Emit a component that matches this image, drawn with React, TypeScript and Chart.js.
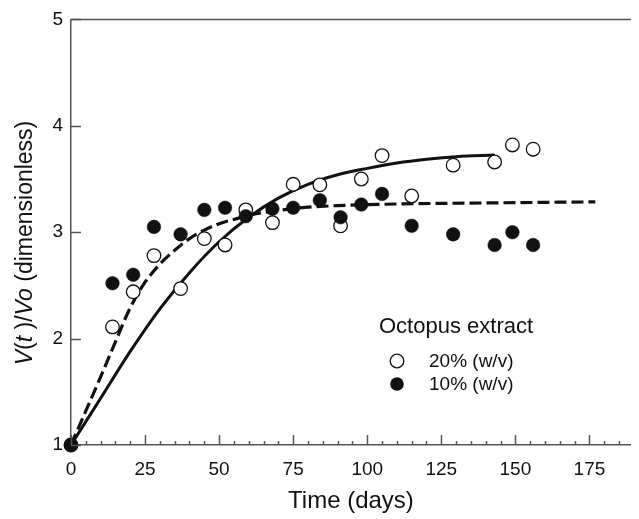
import React, { useEffect, useRef } from "react";
import { Chart, registerables } from "chart.js";

Chart.register(...registerables);

// Observed data, 20% (w/v) — open circles
const days20 = [0, 14, 21, 28, 37, 45, 52, 59, 68, 75, 84, 91, 98, 105, 115, 129, 143, 149, 156];
const vals20 = [1, 2.11, 2.44, 2.78, 2.47, 2.94, 2.88, 3.21, 3.09, 3.45, 3.445, 3.06, 3.5, 3.72, 3.34, 3.63, 3.66, 3.82, 3.78];

// Observed data, 10% (w/v) — filled circles
const days10 = [0, 14, 21, 28, 37, 45, 52, 59, 68, 75, 84, 91, 98, 105, 115, 129, 143, 149, 156];
const vals10 = [1, 2.52, 2.6, 3.05, 2.98, 3.21, 3.23, 3.15, 3.22, 3.23, 3.3, 3.14, 3.26, 3.36, 3.06, 2.98, 2.88, 3.0, 2.88];

// Fitted curve (solid), 20%
const fitDays20 = [0, 10, 20, 30, 40, 50, 60, 70, 80, 90, 100, 110, 120, 130, 143];
const fitVals20 = [1, 1.44, 1.88, 2.28, 2.62, 2.91, 3.14, 3.32, 3.45, 3.54, 3.6, 3.65, 3.685, 3.71, 3.725];

// Fitted curve (dashed), 10%
const fitDays10 = [0, 5, 10, 15, 20, 25, 30, 35, 40, 45, 50, 55, 60, 70, 80, 90, 110, 140, 177];
const fitVals10 = [1, 1.32, 1.64, 1.97, 2.29, 2.53, 2.7, 2.83, 2.94, 3.02, 3.08, 3.12, 3.16, 3.205, 3.235, 3.25, 3.265, 3.275, 3.285];

const xTicks = [0, 25, 50, 75, 100, 125, 150, 175];
const yTicks = [1, 2, 3, 4, 5];

const legendTitle = "Octopus extract";
const legendLabels = ["20% (w/v)", "10% (w/v)"];
const xTitle = "Time (days)";

const FONT = "'Liberation Sans', Arial, Helvetica, sans-serif";
const AXIS = "#555";
const INK = "#111";

const zip = (xs: number[], ys: number[]) => xs.map((x, i) => ({ x, y: ys[i] }));

const decorPlugin = {
  id: "decor",
  afterDraw(chart: any) {
    const ctx = chart.ctx;
    const xs = chart.scales.x;
    const ys = chart.scales.y;
    const area = chart.chartArea;
    ctx.save();
    ctx.strokeStyle = AXIS;
    ctx.lineWidth = 1.5;
    // top border
    ctx.beginPath();
    ctx.moveTo(area.left, area.top);
    ctx.lineTo(area.right, area.top);
    ctx.stroke();
    // x ticks (inward), major every 25, minor every 5
    for (let v = 0; v <= xs.max; v += 5) {
      const px = Math.round(xs.getPixelForValue(v)) + 0.5;
      const len = v % 25 === 0 ? 10 : 4;
      ctx.beginPath();
      ctx.moveTo(px, area.bottom);
      ctx.lineTo(px, area.bottom - len);
      ctx.stroke();
    }
    // y ticks (inward)
    for (const v of yTicks) {
      const py = Math.round(ys.getPixelForValue(v)) + 0.5;
      ctx.beginPath();
      ctx.moveTo(area.left, py);
      ctx.lineTo(area.left + 10, py);
      ctx.stroke();
    }
    // y title with italic segments
    const parts: [string, boolean][] = [
      ["V", true],
      ["(", false],
      ["t", true],
      [" )/", false],
      ["Vo", true],
      [" (dimensionless)", false],
    ];
    const size = 23;
    const fnt = (it: boolean) => `${it ? "italic " : ""}${size}px ${FONT}`;
    let total = 0;
    for (const [s, it] of parts) {
      ctx.font = fnt(it);
      total += ctx.measureText(s).width;
    }
    ctx.translate(32, 243);
    ctx.rotate(-Math.PI / 2);
    ctx.fillStyle = INK;
    ctx.textBaseline = "alphabetic";
    ctx.textAlign = "left";
    let cx = -total / 2;
    for (const [s, it] of parts) {
      ctx.font = fnt(it);
      ctx.fillText(s, cx, 0);
      cx += ctx.measureText(s).width;
    }
    ctx.restore();

    // legend
    ctx.save();
    ctx.fillStyle = INK;
    ctx.textBaseline = "middle";
    ctx.textAlign = "left";
    ctx.font = `22px ${FONT}`;
    ctx.fillText(legendTitle, 379, 327);
    ctx.font = `19px ${FONT}`;
    const rows = [361, 384];
    legendLabels.forEach((lab, i) => {
      ctx.beginPath();
      ctx.arc(397, rows[i], 6.8, 0, Math.PI * 2);
      if (i === 0) {
        ctx.fillStyle = "#fff";
        ctx.fill();
        ctx.lineWidth = 1.3;
        ctx.strokeStyle = INK;
        ctx.stroke();
      } else {
        ctx.fillStyle = INK;
        ctx.fill();
      }
      ctx.fillStyle = INK;
      ctx.fillText(lab, 429, rows[i] + 1);
    });
    ctx.restore();
  },
};

export default function App() {
  const ref = useRef<HTMLCanvasElement | null>(null);
  useEffect(() => {
    if (!ref.current) return;
    const chart = new Chart(ref.current, {
      type: "scatter",
      data: {
        datasets: [
          {
            type: "scatter",
            label: legendLabels[1],
            data: zip(days10, vals10),
            pointRadius: 6.8,
            pointBackgroundColor: INK,
            pointBorderColor: INK,
            pointBorderWidth: 0.5,
            clip: false,
            order: 0,
          },
          {
            type: "scatter",
            label: legendLabels[0],
            data: zip(days20, vals20),
            pointRadius: 6.8,
            pointBackgroundColor: "#fff",
            pointBorderColor: INK,
            pointBorderWidth: 1.3,
            clip: false,
            order: 1,
          },
          {
            type: "line",
            label: "fit 20%",
            data: zip(fitDays20, fitVals20),
            borderColor: INK,
            borderWidth: 3,
            pointRadius: 0,
            cubicInterpolationMode: "monotone",
            fill: false,
            order: 2,
          } as any,
          {
            type: "line",
            label: "fit 10%",
            data: zip(fitDays10, fitVals10),
            borderColor: INK,
            borderWidth: 3.2,
            borderDash: [12, 5],
            borderCapStyle: "butt",
            pointRadius: 0,
            cubicInterpolationMode: "monotone",
            fill: false,
            order: 3,
          } as any,
        ],
      },
      options: {
        animation: false,
        responsive: false,
        layout: { padding: { top: 12, right: 0, left: 0, bottom: 0 } },
        plugins: {
          legend: { display: false },
          tooltip: { enabled: false },
        },
        scales: {
          x: {
            type: "linear",
            min: 0,
            max: 189,
            grid: { display: false, drawTicks: false },
            border: { display: true, color: AXIS, width: 1.5 },
            afterBuildTicks: (s: any) => {
              s.ticks = xTicks.map((v) => ({ value: v }));
            },
            afterFit: (s: any) => {
              s.height = 74;
            },
            ticks: {
              autoSkip: false,
              maxRotation: 0,
              padding: 13,
              color: INK,
              font: { family: FONT, size: 19 },
            },
            title: {
              display: true,
              text: xTitle,
              color: INK,
              font: { family: FONT, size: 24 },
              padding: { top: 0, bottom: 3 },
            },
          },
          y: {
            type: "linear",
            min: 1,
            max: 5,
            grid: { display: false, drawTicks: false },
            border: { display: true, color: AXIS, width: 1.5 },
            afterBuildTicks: (s: any) => {
              s.ticks = yTicks.map((v) => ({ value: v }));
            },
            afterFit: (s: any) => {
              s.width = 71;
            },
            ticks: {
              padding: 8,
              color: INK,
              font: { family: FONT, size: 19 },
            },
          },
        },
      },
      plugins: [decorPlugin],
    } as any);
    return () => chart.destroy();
  }, []);
  return (
    <div style={{ position: "absolute", left: 0, top: 0, width: 639, height: 519, background: "#fff" }}>
      <canvas ref={ref} width={639} height={519} style={{ display: "block" }} />
    </div>
  );
}
